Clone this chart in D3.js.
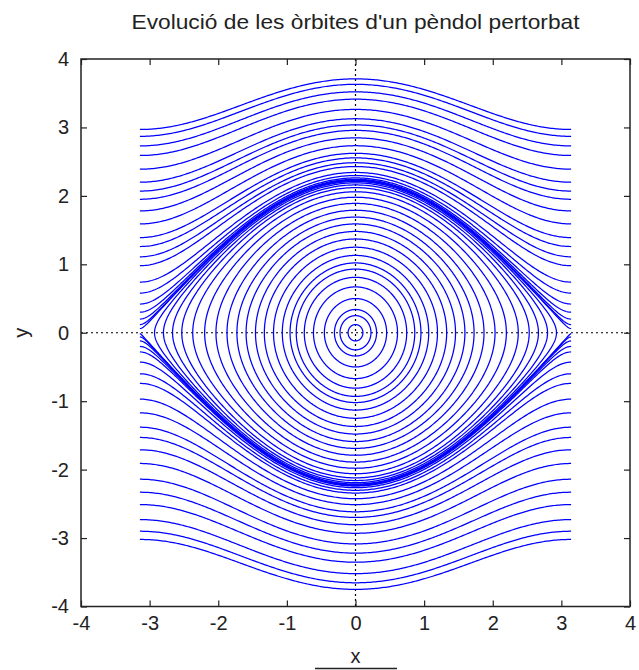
<!DOCTYPE html>
<html>
<head>
<meta charset="utf-8">
<script src="https://cdn.jsdelivr.net/npm/d3@7"></script>
<style>
  html, body { margin: 0; padding: 0; background: #fff; }
  svg { display: block; }
  text { font-family: "Liberation Sans", Arial, sans-serif; fill: #222; }
</style>
</head>
<body>
<svg id="chart" width="639" height="670"></svg>
<script>
// ---- Data ----
const title = "Evolució de les òrbites d'un pèndol pertorbat";
const xTicks = [-4, -3, -2, -1, 0, 1, 2, 3, 4];
const yTicks = [-4, -3, -2, -1, 0, 1, 2, 3, 4];
// pendulum strength, read from separatrix height (y at x=0 ≈ 2.22)
const kPend = 1.235;
// rotation orbits above the separatrix: velocity y where the orbit starts (x = -π)
const upperOrbits = [2.97, 2.87, 2.73, 2.59, 2.39, 2.20, 2.07, 1.95, 1.78, 1.59, 1.39, 1.26, 1.11, 0.98, 0.74, 0.58, 0.42, 0.30, 0.20, 0.12, 0.06];
// rotation orbits below the separatrix: velocity y at x = -π
const lowerOrbits = [-0.01, -0.06, -0.12, -0.20, -0.28, -0.43, -0.60, -0.74, -0.97, -1.17, -1.38, -1.53, -1.71, -1.91, -2.14, -2.33, -2.51, -2.73, -2.90, -3.02];
// libration (closed) orbits: velocity y at x = 0
const closedOrbits = [0.12, 0.25, 0.34, 0.50, 0.67, 0.81, 0.93, 1.02, 1.13, 1.25, 1.37, 1.48, 1.59, 1.69, 1.79, 1.89, 1.98, 2.06, 2.12, 2.16, 2.19, 2.21];

// ---- Layout ----
const svg = d3.select("#chart");
const L = 81, R = 630, T = 59, B = 606.5;
const x = d3.scaleLinear().domain([-4, 4]).range([L, R]);
const y = d3.scaleLinear().domain([-4, 4]).range([B, T]);

// zero axes (dotted)
svg.append("line").attr("x1", x(0)).attr("x2", x(0)).attr("y1", T).attr("y2", B)
  .attr("stroke", "#000").attr("stroke-width", 1.2).attr("stroke-dasharray", "2,3");
svg.append("line").attr("x1", L).attr("x2", R).attr("y1", y(0)).attr("y2", y(0))
  .attr("stroke", "#000").attr("stroke-width", 1.2).attr("stroke-dasharray", "2,3");

// orbit geometry from energy conservation of the pendulum
const line = d3.line().x(d => x(d[0])).y(d => y(d[1]));
const N = 260;
function rotation(v) {
  const E = v * v / 2 + 2 * kPend;
  const s = Math.sign(v) || 1;
  return d3.range(N + 1).map(i => {
    const xv = -Math.PI + 2 * Math.PI * i / N;
    const q = Math.max(0, 2 * (E - kPend * (1 - Math.cos(xv))));
    return [xv, s * Math.sqrt(q)];
  });
}
function libration(v) {
  const E = v * v / 2;
  const xm = Math.acos(Math.max(-1, 1 - E / kPend));
  const pts = [];
  for (let i = 0; i <= N; i++) {
    const t = -Math.PI / 2 + Math.PI * i / N;
    const xv = xm * Math.sin(t);
    const q = Math.max(0, 2 * (E - kPend * (1 - Math.cos(xv))));
    pts.push([xv, Math.sqrt(q)]);
  }
  for (let i = 0; i <= N; i++) {
    const t = Math.PI / 2 - Math.PI * i / N;
    const xv = xm * Math.sin(t);
    const q = Math.max(0, 2 * (E - kPend * (1 - Math.cos(xv))));
    pts.push([xv, -Math.sqrt(q)]);
  }
  return pts;
}

const g = svg.append("g").attr("fill", "none").attr("stroke", "#0000ff").attr("stroke-width", 1.25);
g.selectAll("path.up").data(upperOrbits).join("path").attr("class", "up").attr("d", v => line(rotation(v)));
g.selectAll("path.lo").data(lowerOrbits).join("path").attr("class", "lo").attr("d", v => line(rotation(v)));
g.selectAll("path.cl").data(closedOrbits).join("path").attr("class", "cl").attr("d", v => line(libration(v)));

// axes with inward ticks
const fs = 20;
const fmt = d => String(d);
const ax = svg.append("g").attr("transform", `translate(0,${B})`)
  .call(d3.axisBottom(x).tickValues(xTicks).tickSize(-6).tickPadding(9).tickFormat(fmt));
const ay = svg.append("g").attr("transform", `translate(${L},0)`)
  .call(d3.axisLeft(y).tickValues(yTicks).tickSize(-6).tickPadding(12).tickFormat(fmt));
const axT = svg.append("g").attr("transform", `translate(0,${T})`)
  .call(d3.axisTop(x).tickValues(xTicks).tickSize(-6).tickFormat(""));
const ayR = svg.append("g").attr("transform", `translate(${R},0)`)
  .call(d3.axisRight(y).tickValues(yTicks).tickSize(-6).tickFormat(""));
[ax, ay, axT, ayR].forEach(a => {
  a.select(".domain").remove();
  a.selectAll("line").attr("stroke", "#222").attr("stroke-width", 1.2);
  a.selectAll("text").attr("font-size", fs).attr("font-family", "Liberation Sans, Arial, sans-serif").attr("fill", "#222");
});
svg.append("rect").attr("x", L).attr("y", T).attr("width", R - L).attr("height", B - T)
  .attr("fill", "none").attr("stroke", "#222").attr("stroke-width", 1.5);

// titles
svg.append("text").attr("x", (L + R) / 2).attr("y", 29).attr("text-anchor", "middle")
  .attr("font-size", 21).attr("textLength", 448).attr("lengthAdjust", "spacingAndGlyphs").text(title);
svg.append("text").attr("x", (L + R) / 2).attr("y", 663).attr("text-anchor", "middle")
  .attr("font-size", 20).text("x");
svg.append("line").attr("x1", 315).attr("x2", 397).attr("y1", 668.5).attr("y2", 668.5)
  .attr("stroke", "#222").attr("stroke-width", 1.5);
svg.append("text").attr("transform", `translate(28,${y(0)}) rotate(-90)`).attr("text-anchor", "middle")
  .attr("font-size", 20).text("y");
</script>
</body>
</html>
